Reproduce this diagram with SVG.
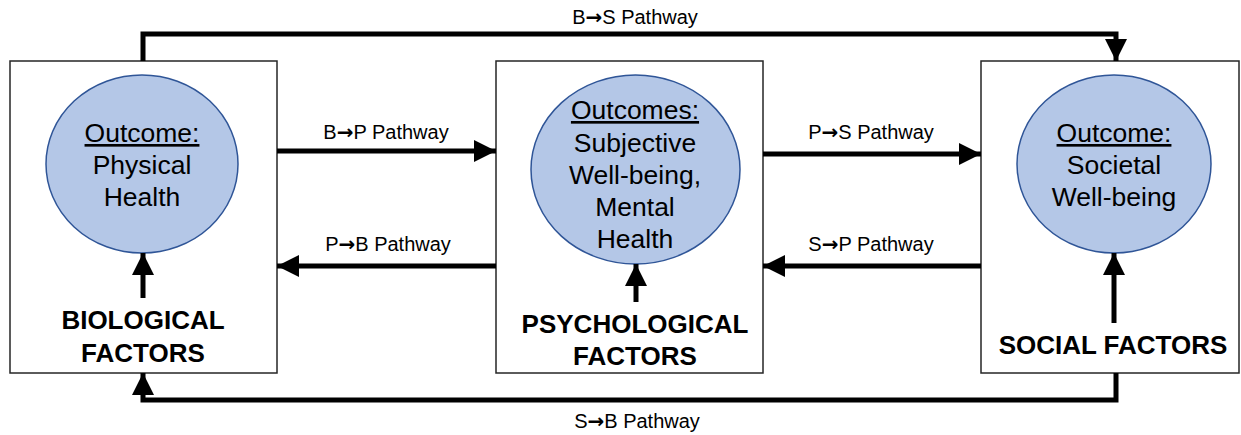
<svg xmlns="http://www.w3.org/2000/svg" width="1241" height="435" viewBox="0 0 1241 435">
<style>
.box{fill:#fff;stroke:#262626;stroke-width:1.5}
.ell{fill:#b4c7e7;stroke:#2f5597;stroke-width:1.5}
.conn{fill:none;stroke:#000;stroke-width:5}
.lbl{font-family:"Liberation Sans",Arial,sans-serif;font-size:20px;fill:#000;text-anchor:middle}
.ar{font-family:"DejaVu Sans",sans-serif;font-weight:bold}
.out{font-family:"Liberation Sans",Arial,sans-serif;font-size:26.5px;fill:#000;text-anchor:middle}
.fac{font-family:"Liberation Sans",Arial,sans-serif;font-size:26px;font-weight:bold;fill:#000;text-anchor:middle}
</style>
<defs>
<marker id="ah" markerWidth="4.4" markerHeight="4.4" refX="4.4" refY="2.2" orient="auto" markerUnits="strokeWidth">
<path d="M0,0 L4.4,2.2 L0,4.4 Z" fill="#000"/>
</marker>
</defs>
<g id="bio">
<rect class="box" x="10" y="61" width="267" height="312"/>
<ellipse class="ell" cx="142" cy="164" rx="96" ry="89"/>
<text class="out" x="142" y="142"><tspan text-decoration="underline">Outcome:</tspan></text>
<text class="out" x="142" y="174">Physical</text>
<text class="out" x="142" y="206">Health</text>
<text class="fac" x="143" y="329">BIOLOGICAL</text>
<text class="fac" x="143" y="362">FACTORS</text>
</g>
<g id="psy">
<rect class="box" x="496" y="61" width="267" height="312"/>
<ellipse class="ell" cx="635.5" cy="169.5" rx="104.5" ry="94.5"/>
<text class="out" x="635" y="119"><tspan text-decoration="underline">Outcomes:</tspan></text>
<text class="out" x="635" y="152">Subjective</text>
<text class="out" x="635" y="184">Well-being,</text>
<text class="out" x="635" y="216">Mental</text>
<text class="out" x="635" y="248">Health</text>
<text class="fac" x="635" y="333">PSYCHOLOGICAL</text>
<text class="fac" x="635" y="365">FACTORS</text>
</g>
<g id="soc">
<rect class="box" x="981" y="61" width="258" height="312"/>
<ellipse class="ell" cx="1114" cy="164" rx="97" ry="89"/>
<text class="out" x="1114" y="142"><tspan text-decoration="underline">Outcome:</tspan></text>
<text class="out" x="1114" y="174">Societal</text>
<text class="out" x="1114" y="206">Well-being</text>
<text class="fac" x="1113" y="354">SOCIAL FACTORS</text>
</g>
<g id="connectors">
<polyline class="conn" points="143,61 143,34 1116,34 1116,61" marker-end="url(#ah)"/>
<polyline class="conn" points="1116,373 1116,400 143,400 143,373" marker-end="url(#ah)"/>
<line class="conn" x1="277" y1="151" x2="496" y2="151" marker-end="url(#ah)"/>
<line class="conn" x1="496" y1="266" x2="277" y2="266" marker-end="url(#ah)"/>
<line class="conn" x1="763" y1="154" x2="981" y2="154" marker-end="url(#ah)"/>
<line class="conn" x1="981" y1="266" x2="763" y2="266" marker-end="url(#ah)"/>
<line class="conn" x1="143" y1="298" x2="143" y2="253" marker-end="url(#ah)"/>
<line class="conn" x1="636" y1="302" x2="636" y2="264" marker-end="url(#ah)"/>
<line class="conn" x1="1114" y1="323" x2="1114" y2="253" marker-end="url(#ah)"/>
<text class="lbl" x="635" y="24">B<tspan class="ar">→</tspan>S Pathway</text>
<text class="lbl" x="386" y="139">B<tspan class="ar">→</tspan>P Pathway</text>
<text class="lbl" x="388" y="251">P<tspan class="ar">→</tspan>B Pathway</text>
<text class="lbl" x="871" y="139">P<tspan class="ar">→</tspan>S Pathway</text>
<text class="lbl" x="871" y="251">S<tspan class="ar">→</tspan>P Pathway</text>
<text class="lbl" x="637" y="428">S<tspan class="ar">→</tspan>B Pathway</text>
</g>
</svg>
